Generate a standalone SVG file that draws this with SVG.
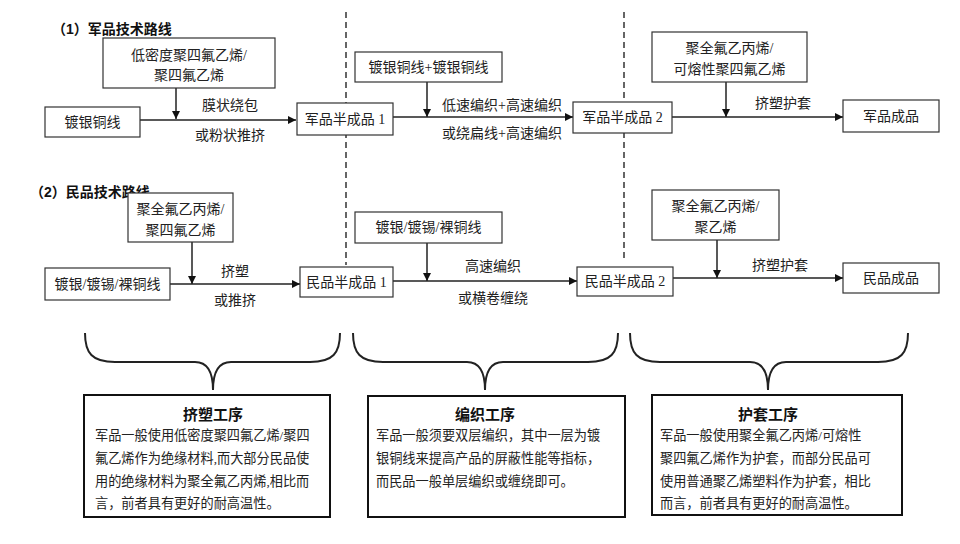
<svg xmlns="http://www.w3.org/2000/svg" width="960" height="544" viewBox="0 0 960 544">
<style>
.bg{fill:#fff}
.n rect{fill:#fff;stroke:#333;stroke-width:1.2}
.t{font-family:"Liberation Serif","Noto Sans CJK SC",serif;font-size:14px;fill:#222;text-anchor:middle}
.h{font-family:"Liberation Sans","Noto Sans CJK SC",sans-serif;font-size:14px;font-weight:bold;fill:#111}
.b rect{fill:#fff;stroke:#111;stroke-width:2}
.bt{font-family:"Liberation Sans","Noto Sans CJK SC",sans-serif;font-size:15px;font-weight:bold;fill:#111;text-anchor:middle}
.bx{font-family:"Liberation Serif","Noto Sans CJK SC",serif;font-size:13.2px;fill:#222}
.ln{stroke:#222;stroke-width:1.5;fill:none}
.ds{stroke:#333;stroke-width:1.5;stroke-dasharray:6 4;fill:none}
.br{stroke:#222;stroke-width:2;fill:none}
</style>
<defs>
<marker id="ah" viewBox="0 0 10 10" refX="10" refY="5" markerWidth="8" markerHeight="8" markerUnits="userSpaceOnUse" orient="auto">
<path d="M0,0 L10,5 L0,10 z" fill="#111"/>
</marker>
</defs>
<rect class="bg" x="0" y="0" width="960" height="544"/>

<text class="h" x="52" y="34">（1）军品技术路线</text>
<text class="h" x="30" y="197">（2）民品技术路线</text>

<g id="dividers">
<line class="ds" x1="346" y1="12" x2="346" y2="265"/>
<line class="ds" x1="624" y1="12" x2="624" y2="262"/>
</g>

<g id="connectors">
<line class="ln" x1="176" y1="88" x2="176" y2="119" marker-end="url(#ah)"/>
<line class="ln" x1="140" y1="120" x2="296" y2="120" marker-end="url(#ah)"/>
<line class="ln" x1="427" y1="82" x2="427" y2="117" marker-end="url(#ah)"/>
<line class="ln" x1="393" y1="117" x2="573" y2="117" marker-end="url(#ah)"/>
<line class="ln" x1="726" y1="82" x2="726" y2="117" marker-end="url(#ah)"/>
<line class="ln" x1="672" y1="117" x2="843" y2="117" marker-end="url(#ah)"/>

<line class="ln" x1="192" y1="242" x2="192" y2="284" marker-end="url(#ah)"/>
<line class="ln" x1="170" y1="284" x2="300" y2="284" marker-end="url(#ah)"/>
<line class="ln" x1="427" y1="243" x2="427" y2="281" marker-end="url(#ah)"/>
<line class="ln" x1="393" y1="281" x2="577" y2="281" marker-end="url(#ah)"/>
<line class="ln" x1="717" y1="240" x2="717" y2="278" marker-end="url(#ah)"/>
<line class="ln" x1="673" y1="278" x2="843" y2="278" marker-end="url(#ah)"/>

<text class="t" x="230" y="110">膜状绕包</text>
<text class="t" x="230" y="140">或粉状推挤</text>
<text class="t" x="502" y="110">低速编织+高速编织</text>
<text class="t" x="502" y="138">或绕扁线+高速编织</text>
<text class="t" x="783" y="108">挤塑护套</text>
<text class="t" x="235" y="276">挤塑</text>
<text class="t" x="235" y="305">或推挤</text>
<text class="t" x="493" y="271">高速编织</text>
<text class="t" x="493" y="303">或横卷缠绕</text>
<text class="t" x="780" y="270">挤塑护套</text>
</g>

<g id="m-material1" class="n"><rect x="103" y="38" width="172" height="50"/>
<text class="t" x="189" y="60">低密度聚四氟乙烯/</text><text class="t" x="189" y="80">聚四氟乙烯</text></g>
<g id="m-wire" class="n"><rect x="45" y="107" width="95" height="30"/><text class="t" x="92.5" y="127">镀银铜线</text></g>
<g id="m-semi1" class="n"><rect x="297" y="103" width="96" height="32"/><text class="t" x="345" y="124">军品半成品 1</text></g>
<g id="m-braid" class="n"><rect x="355" y="52" width="147" height="30"/><text class="t" x="428.5" y="72">镀银铜线+镀银铜线</text></g>
<g id="m-semi2" class="n"><rect x="573" y="102" width="99" height="31"/><text class="t" x="622.5" y="122">军品半成品 2</text></g>
<g id="m-jacket" class="n"><rect x="652" y="32" width="155" height="50"/>
<text class="t" x="729.5" y="53">聚全氟乙丙烯/</text><text class="t" x="729.5" y="74">可熔性聚四氟乙烯</text></g>
<g id="m-final" class="n"><rect x="843" y="100" width="96" height="32"/><text class="t" x="891" y="121">军品成品</text></g>

<g id="c-material1" class="n"><rect x="128" y="193" width="105" height="49"/>
<text class="t" x="180.5" y="214">聚全氟乙丙烯/</text><text class="t" x="180.5" y="235">聚四氟乙烯</text></g>
<g id="c-wire" class="n"><rect x="45" y="268" width="125" height="32"/><text class="t" x="107.5" y="289">镀银/镀锡/裸铜线</text></g>
<g id="c-semi1" class="n"><rect x="300" y="267" width="93" height="30"/><text class="t" x="346.5" y="287">民品半成品 1</text></g>
<g id="c-braid" class="n"><rect x="355" y="212" width="147" height="31"/><text class="t" x="428.5" y="232">镀银/镀锡/裸铜线</text></g>
<g id="c-semi2" class="n"><rect x="577" y="267" width="96" height="29"/><text class="t" x="625" y="286">民品半成品 2</text></g>
<g id="c-jacket" class="n"><rect x="652" y="190" width="127" height="50"/>
<text class="t" x="715.5" y="211">聚全氟乙丙烯/</text><text class="t" x="715.5" y="232">聚乙烯</text></g>
<g id="c-final" class="n"><rect x="843" y="263" width="96" height="30"/><text class="t" x="891" y="283">民品成品</text></g>

<g id="braces">
<path class="br" d="M85,333 C85,353 92,362 115,362 L195,362 C207,362 213,372 213,390 C213,372 219,362 231,362 L310,362 C333,362 340,353 340,333"/>
<path class="br" d="M353,333 C353,353 360,362 383,362 L467,362 C479,362 485,372 485,390 C485,372 491,362 503,362 L588,362 C611,362 618,353 618,333"/>
<path class="br" d="M630,333 C630,353 637,362 660,362 L750,362 C762,362 768,372 768,390 C768,372 774,362 786,362 L878,362 C901,362 908,353 908,333"/>
</g>

<g id="note-extrusion" class="b"><rect x="84" y="395" width="246" height="122"/>
<text class="bt" x="213" y="420">挤塑工序</text>
<text class="bx" x="95" y="440">军品一般使用低密度聚四氟乙烯/聚四</text>
<text class="bx" x="95" y="463">氟乙烯作为绝缘材料,而大部分民品使</text>
<text class="bx" x="95" y="486">用的绝缘材料为聚全氟乙丙烯,相比而</text>
<text class="bx" x="95" y="508">言，前者具有更好的耐高温性。</text>
</g>
<g id="note-braiding" class="b"><rect x="368" y="396" width="257" height="121"/>
<text class="bt" x="485" y="420">编织工序</text>
<text class="bx" x="376" y="440">军品一般须要双层编织，其中一层为镀</text>
<text class="bx" x="376" y="463">银铜线来提高产品的屏蔽性能等指标，</text>
<text class="bx" x="376" y="486">而民品一般单层编织或缠绕即可。</text>
</g>
<g id="note-jacket" class="b"><rect x="652" y="395" width="250" height="120"/>
<text class="bt" x="768" y="420">护套工序</text>
<text class="bx" x="660" y="440">军品一般使用聚全氟乙丙烯/可熔性</text>
<text class="bx" x="660" y="463">聚四氟乙烯作为护套，而部分民品可</text>
<text class="bx" x="660" y="486">使用普通聚乙烯塑料作为护套，相比</text>
<text class="bx" x="660" y="508">而言，前者具有更好的耐高温性。</text>
</g>
</svg>
